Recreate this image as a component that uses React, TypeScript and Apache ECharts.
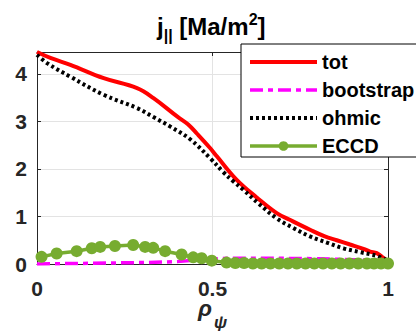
import React, { useEffect, useRef } from "react";
import * as echarts from "echarts";

const FONT = "Arial, 'Liberation Sans', Helvetica, sans-serif";

const seriesNames = ["tot", "bootstrap", "ohmic", "ECCD"];

const totRho = [0, 0.04, 0.095, 0.19, 0.285, 0.332, 0.4, 0.43, 0.456, 0.493, 0.513, 0.569, 0.626, 0.683, 0.72, 0.778, 0.82, 0.854, 0.892, 0.93, 0.949, 0.968, 0.987, 1.0];
const totJ = [4.46, 4.33, 4.19, 3.91, 3.7, 3.49, 3.1, 2.94, 2.74, 2.44, 2.26, 1.77, 1.4, 1.07, 0.93, 0.72, 0.58, 0.5, 0.41, 0.32, 0.26, 0.23, 0.13, 0.05];

const bsRho = [0, 0.1, 0.2, 0.3, 0.4, 0.45, 0.5, 0.55, 0.6, 0.7, 0.8, 0.9, 1.0];
const bsJ = [0.0, 0.01, 0.02, 0.03, 0.05, 0.08, 0.11, 0.12, 0.12, 0.12, 0.11, 0.09, 0.07];

const ohmRho = [0, 0.03, 0.095, 0.19, 0.285, 0.332, 0.38, 0.437, 0.494, 0.53, 0.559, 0.588, 0.63, 0.683, 0.73, 0.778, 0.83, 0.873, 0.92, 0.968, 1.0];
const ohmJ = [4.4, 4.22, 3.94, 3.56, 3.28, 3.09, 2.89, 2.62, 2.22, 1.94, 1.74, 1.56, 1.28, 0.96, 0.76, 0.58, 0.44, 0.33, 0.25, 0.17, 0.07];

const eccdRho = [0.013, 0.056, 0.113, 0.156, 0.18, 0.222, 0.274, 0.308, 0.331, 0.365, 0.412, 0.445, 0.469, 0.498, 0.54, 0.565, 0.59, 0.615, 0.64, 0.665, 0.69, 0.715, 0.74, 0.765, 0.79, 0.815, 0.84, 0.865, 0.89, 0.915, 0.94, 0.96, 0.98, 1.0];
const eccdJ = [0.15, 0.22, 0.27, 0.33, 0.36, 0.38, 0.4, 0.36, 0.34, 0.27, 0.2, 0.14, 0.12, 0.07, 0.03, 0.02, 0.02, 0.01, 0.01, 0.01, 0.01, 0.01, 0.01, 0.01, 0.01, 0.01, 0.01, 0.01, 0.01, 0.01, 0.01, 0.01, 0.01, 0.01];

const xTicks = [0, 0.5, 1];
const yTicks = [0, 1, 2, 3, 4];

const pairs = (xs: number[], ys: number[]) => xs.map((x, i) => [x, ys[i]]);

export default function App() {
  const ref = useRef<HTMLDivElement>(null);
  useEffect(() => {
    if (!ref.current) return;
    const chart = echarts.init(ref.current, undefined, { renderer: "svg" });
    const axisColor = "#262626";
    const gridColor = "#e3e3e3";
    const labelStyle = { fontFamily: FONT, fontSize: 21, fontWeight: "bold" as const, color: axisColor };
    const noMarker = { opacity: 0, color: "transparent", borderWidth: 0 };
    chart.setOption({
      animation: false,
      backgroundColor: "#ffffff",
      title: {
        text: "{a|j}{s|||}{a| [Ma/m}{p|2}{a|]}",
        left: 152,
        top: 4,
        textStyle: {
          rich: {
            a: { fontFamily: FONT, fontSize: 24, fontWeight: "bold", color: "#000" },
            s: { fontFamily: FONT, fontSize: 16, fontWeight: "bold", color: "#000", padding: [18, 0, 0, 0] },
            p: { fontFamily: FONT, fontSize: 16, fontWeight: "bold", color: "#000", padding: [0, 0, 14, 0] },
          },
        },
      },
      grid: { left: 37, right: 28, top: 52, bottom: 69, outerBoundsMode: "none", containLabel: false },
      legend: {
        orient: "vertical",
        left: 241,
        top: 44,
        padding: [8, 14, 1, 7],
        itemGap: 8,
        itemWidth: 67,
        itemHeight: 12,
        backgroundColor: "#ffffff",
        borderColor: "#000000",
        borderWidth: 1,
        borderRadius: 0,
        data: [
          { name: seriesNames[0], itemStyle: noMarker },
          { name: seriesNames[1], itemStyle: noMarker },
          { name: seriesNames[2], itemStyle: noMarker },
          { name: seriesNames[3] },
        ],
        lineStyle: { width: "inherit" },
        textStyle: { fontFamily: FONT, fontSize: 20, fontWeight: "bold", color: "#000" },
      },
      xAxis: [
        {
          type: "value",
          min: 0,
          max: 1,
          interval: 0.5,
          position: "bottom",
          name: "{r|ρ}{s|ψ}",
          nameLocation: "middle",
          nameGap: 20,
          nameMoveOverlap: false,
          nameTextStyle: {
            verticalAlign: "top",
            rich: {
              r: { fontFamily: FONT, fontSize: 23, fontWeight: "bold", fontStyle: "italic", color: axisColor },
              s: { fontFamily: FONT, fontSize: 17, fontWeight: "bold", fontStyle: "italic", color: axisColor, padding: [30, 0, 0, 2] },
            },
          },
          axisLine: { show: true, onZero: false, lineStyle: { color: axisColor, width: 1 } },
          axisTick: { show: true, inside: true, length: 4, lineStyle: { color: axisColor }, customValues: xTicks },
          axisLabel: { ...labelStyle, margin: 14, customValues: xTicks },
          splitLine: { show: true, lineStyle: { color: gridColor, width: 1 } },
        },
        {
          type: "value",
          min: 0,
          max: 1,
          interval: 0.5,
          position: "top",
          axisLine: { show: true, onZero: false, lineStyle: { color: axisColor, width: 1 } },
          axisTick: { show: true, inside: true, length: 4, lineStyle: { color: axisColor } },
          axisLabel: { show: false },
          splitLine: { show: false },
        },
      ],
      yAxis: [
        {
          type: "value",
          min: 0,
          max: 4.46,
          interval: 1,
          position: "left",
          axisLine: { show: true, onZero: false, lineStyle: { color: axisColor, width: 1 } },
          axisTick: { show: true, inside: true, length: 4, lineStyle: { color: axisColor }, customValues: yTicks },
          axisLabel: { ...labelStyle, margin: 10, customValues: yTicks },
          splitLine: { show: true, lineStyle: { color: gridColor, width: 1 } },
        },
        {
          type: "value",
          min: 0,
          max: 4.46,
          interval: 1,
          position: "right",
          axisLine: { show: true, onZero: false, lineStyle: { color: axisColor, width: 1 } },
          axisTick: { show: true, inside: true, length: 4, lineStyle: { color: axisColor }, customValues: yTicks },
          axisLabel: { show: false },
          splitLine: { show: false },
        },
      ],
      series: [
        {
          name: "tot",
          type: "line",
          data: pairs(totRho, totJ),
          symbol: "none",
          smooth: 0.4,
          color: "#ff0000",
          lineStyle: { color: "#ff0000", width: 4 },
          z: 2,
        },
        {
          name: "bootstrap",
          type: "line",
          data: pairs(bsRho, bsJ),
          symbol: "none",
          color: "#ff00ff",
          lineStyle: { color: "#ff00ff", width: 3.5, type: [13, 5, 5, 5] },
          z: 3,
        },
        {
          name: "ohmic",
          type: "line",
          data: pairs(ohmRho, ohmJ),
          symbol: "none",
          smooth: 0.4,
          color: "#000000",
          lineStyle: { color: "#000000", width: 4, type: [3, 3] },
          z: 4,
        },
        {
          name: "ECCD",
          type: "line",
          data: pairs(eccdRho, eccdJ),
          symbol: "circle",
          symbolSize: 12,
          color: "#77ac30",
          itemStyle: { color: "#77ac30" },
          lineStyle: { color: "#77ac30", width: 3.5 },
          z: 5,
        },
      ],
    });
    return () => chart.dispose();
  }, []);
  return <div ref={ref} style={{ position: "fixed", left: 0, top: 0, width: 416, height: 333 }} />;
}
